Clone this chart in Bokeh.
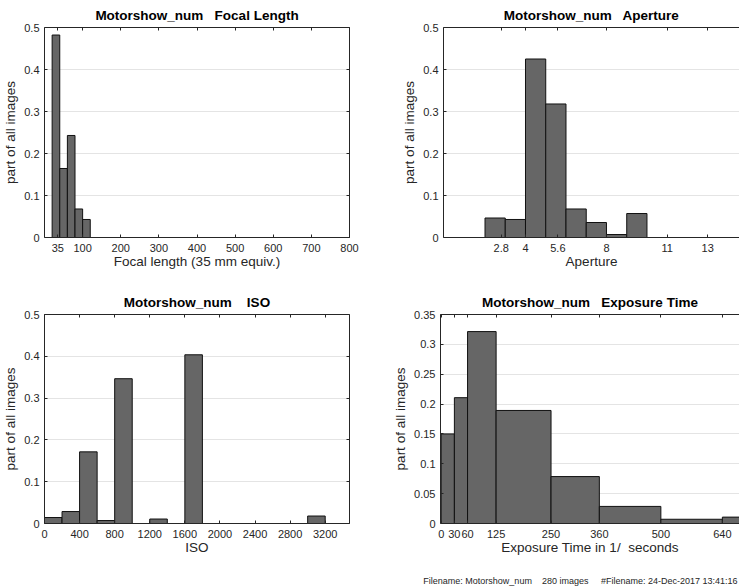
from bokeh.plotting import figure
from bokeh.models import Range1d, FixedTicker, LinearAxis, Label
from bokeh.layouts import column, row
from bokeh.embed import file_html
from bokeh.resources import INLINE

# ---------------- data ----------------
focal_edges = list(range(20, 820, 20))
focal_values = [0.4821, 0.1643, 0.2429, 0.0679, 0.0429,
                0, 0, 0, 0, 0, 0, 0, 0, 0, 0, 0, 0, 0, 0, 0, 0, 0,
                0, 0, 0, 0, 0, 0, 0, 0, 0, 0, 0, 0, 0, 0, 0, 0, 0]
focal_ticks = [35, 100, 200, 300, 400, 500, 600, 700, 800]
focal_tick_labels = ["35", "100", "200", "300", "400", "500", "600", "700", "800"]

aperture_edges = [0, 1, 2, 3, 4, 5, 6, 7, 8, 9, 10, 11, 12, 13, 14, 15]
aperture_values = [0, 0, 0.0464, 0.0429, 0.425, 0.3179, 0.0679, 0.0357, 0.0071,
                   0.0571, 0, 0, 0, 0, 0]
aperture_ticks = [2.8, 4, 5.6, 8, 11, 13]
aperture_tick_labels = ["2.8", "4", "5.6", "8", "11", "13"]

iso_edges = [0, 200, 400, 600, 800, 1000, 1200, 1400, 1600, 1800, 2000, 2200,
             2400, 2600, 2800, 3000, 3200, 3400, 3600]
iso_values = [0.0143, 0.0286, 0.1714, 0.0071, 0.3464, 0, 0.0107, 0, 0.4036,
              0, 0, 0, 0, 0, 0, 0.0179, 0, 0]
iso_ticks = [0, 400, 800, 1200, 1600, 2000, 2400, 2800, 3200]
iso_tick_labels = ["0", "400", "800", "1200", "1600", "2000", "2400", "2800", "3200"]

exposure_edges = [0, 30, 60, 125, 250, 360, 500, 640, 700]
exposure_values = [0.15, 0.2107, 0.3214, 0.1893, 0.0786, 0.0286, 0.0071, 0.0107]
exposure_ticks = [0, 30, 60, 125, 250, 360, 500, 640]
exposure_tick_labels = ["0", "30", "60", "125", "250", "360", "500", "640"]

y_ticks_half = [0, 0.1, 0.2, 0.3, 0.4, 0.5]
y_labels_half = ["0", "0.1", "0.2", "0.3", "0.4", "0.5"]
y_ticks_exp = [0, 0.05, 0.1, 0.15, 0.2, 0.25, 0.3, 0.35]
y_labels_exp = ["0", "0.05", "0.1", "0.15", "0.2", "0.25", "0.3", "0.35"]

NB = "\u00a0"
footer_text = ("Filename: Motorshow_num " + NB * 2 + " 280 images " + NB * 3 +
               " #Filename: 24-Dec-2017 13:41:16")

# ---------------- style ----------------
FONT = "Liberation Sans"
AX = "#262626"


def make_panel(title, xlabel, edges, values, xticks, xlabels, yticks, ylabels,
               xr, yr, w, h, br, bb, boxed, title_offset):
    p = figure(width=w, height=h, x_range=Range1d(*xr), y_range=Range1d(*yr),
               output_backend="svg", toolbar_location=None,
               min_border_left=0, min_border_right=br,
               min_border_top=0, min_border_bottom=bb)
    p.title.text = title
    p.title.align = "center"
    p.title.offset = title_offset
    p.title.text_font = FONT
    p.title.text_font_size = "13.5px"
    p.title.text_font_style = "bold"
    p.title.text_color = "#000000"
    p.outline_line_color = None
    p.background_fill_color = "white"
    p.border_fill_color = "white"

    xt = FixedTicker(ticks=xticks)
    yt = FixedTicker(ticks=yticks)
    p.xgrid.visible = False
    p.ygrid.ticker = yt
    p.ygrid.grid_line_color = "#e4e4e4"
    p.ygrid.grid_line_width = 1

    for ax, t, labs in ((p.xaxis[0], xt, xlabels), (p.yaxis[0], yt, ylabels)):
        ax.ticker = t
        ax.major_label_overrides = dict(zip(t.ticks, labs))
        ax.major_tick_in = 3
        ax.major_tick_out = 0
        ax.minor_tick_in = 0
        ax.minor_tick_out = 0
        ax.axis_line_color = AX
        ax.major_tick_line_color = AX
        ax.major_label_text_font = FONT
        ax.major_label_text_font_size = "11px"
        ax.major_label_text_color = AX
        ax.axis_label_text_font = FONT
        ax.axis_label_text_font_size = "13.5px"
        ax.axis_label_text_font_style = "normal"
        ax.axis_label_text_color = AX
    p.xaxis[0].axis_label = xlabel
    p.xaxis[0].major_label_standoff = 6
    p.xaxis[0].axis_label_standoff = -1
    p.yaxis[0].axis_label = "part of all images"
    p.yaxis[0].major_label_standoff = 5
    p.yaxis[0].axis_label_standoff = 3

    def extra_axis(t):
        a = LinearAxis(ticker=t, major_tick_in=3, major_tick_out=0,
                       minor_tick_in=0, minor_tick_out=0,
                       major_label_text_font_size="0px", major_label_standoff=0,
                       axis_line_color=AX, major_tick_line_color=AX)
        a.major_label_overrides = {k: "" for k in t.ticks}
        return a

    p.add_layout(extra_axis(xt), "above")
    if boxed:
        p.add_layout(extra_axis(yt), "right")

    p.quad(left=edges[:-1], right=edges[1:], bottom=0, top=values,
           fill_color="#666666", line_color="#111111", line_width=1)
    return p


f1 = make_panel("Motorshow_num " + NB + " Focal Length", "Focal length (35 mm equiv.)",
                focal_edges, focal_values, focal_ticks, focal_tick_labels,
                y_ticks_half, y_labels_half, (0, 800), (0, 0.5),
                399, 287, 50, 50, True, 0)
f2 = make_panel("Motorshow_num " + NB + " Aperture", "Aperture",
                aperture_edges, aperture_values, aperture_ticks, aperture_tick_labels,
                y_ticks_half, y_labels_half, (-0.05, 14.57), (0, 0.5),
                340, 287, 0, 50, False, 4)
f3 = make_panel("Motorshow_num " + NB * 2 + " ISO", "ISO",
                iso_edges, iso_values, iso_ticks, iso_tick_labels,
                y_ticks_half, y_labels_half, (0, 3477), (0, 0.5),
                390, 283, 41, 47, True, 0)
f4 = make_panel("Motorshow_num " + NB + " Exposure Time", "Exposure Time in 1/" + NB + " seconds",
                exposure_edges, exposure_values, exposure_ticks, exposure_tick_labels,
                y_ticks_exp, y_labels_exp, (-1.6, 679), (0, 0.35),
                349, 283, 0, 47, False, 4)

foot = figure(width=739, height=16, x_range=Range1d(0, 739), y_range=Range1d(0, 16),
              output_backend="svg", toolbar_location=None,
              min_border_left=0, min_border_right=0, min_border_top=0, min_border_bottom=0)
foot.axis.visible = False
foot.grid.visible = False
foot.outline_line_color = None
foot.background_fill_color = "white"
foot.border_fill_color = "white"
foot.add_layout(Label(x=737, y=6, text=footer_text, text_align="right",
                      text_baseline="middle", text_font=FONT,
                      text_font_size="9px", text_color=AX))

layout = column(row(f1, f2), row(f3, f4), foot)

open("out.html", "w").write(file_html(layout, INLINE))
